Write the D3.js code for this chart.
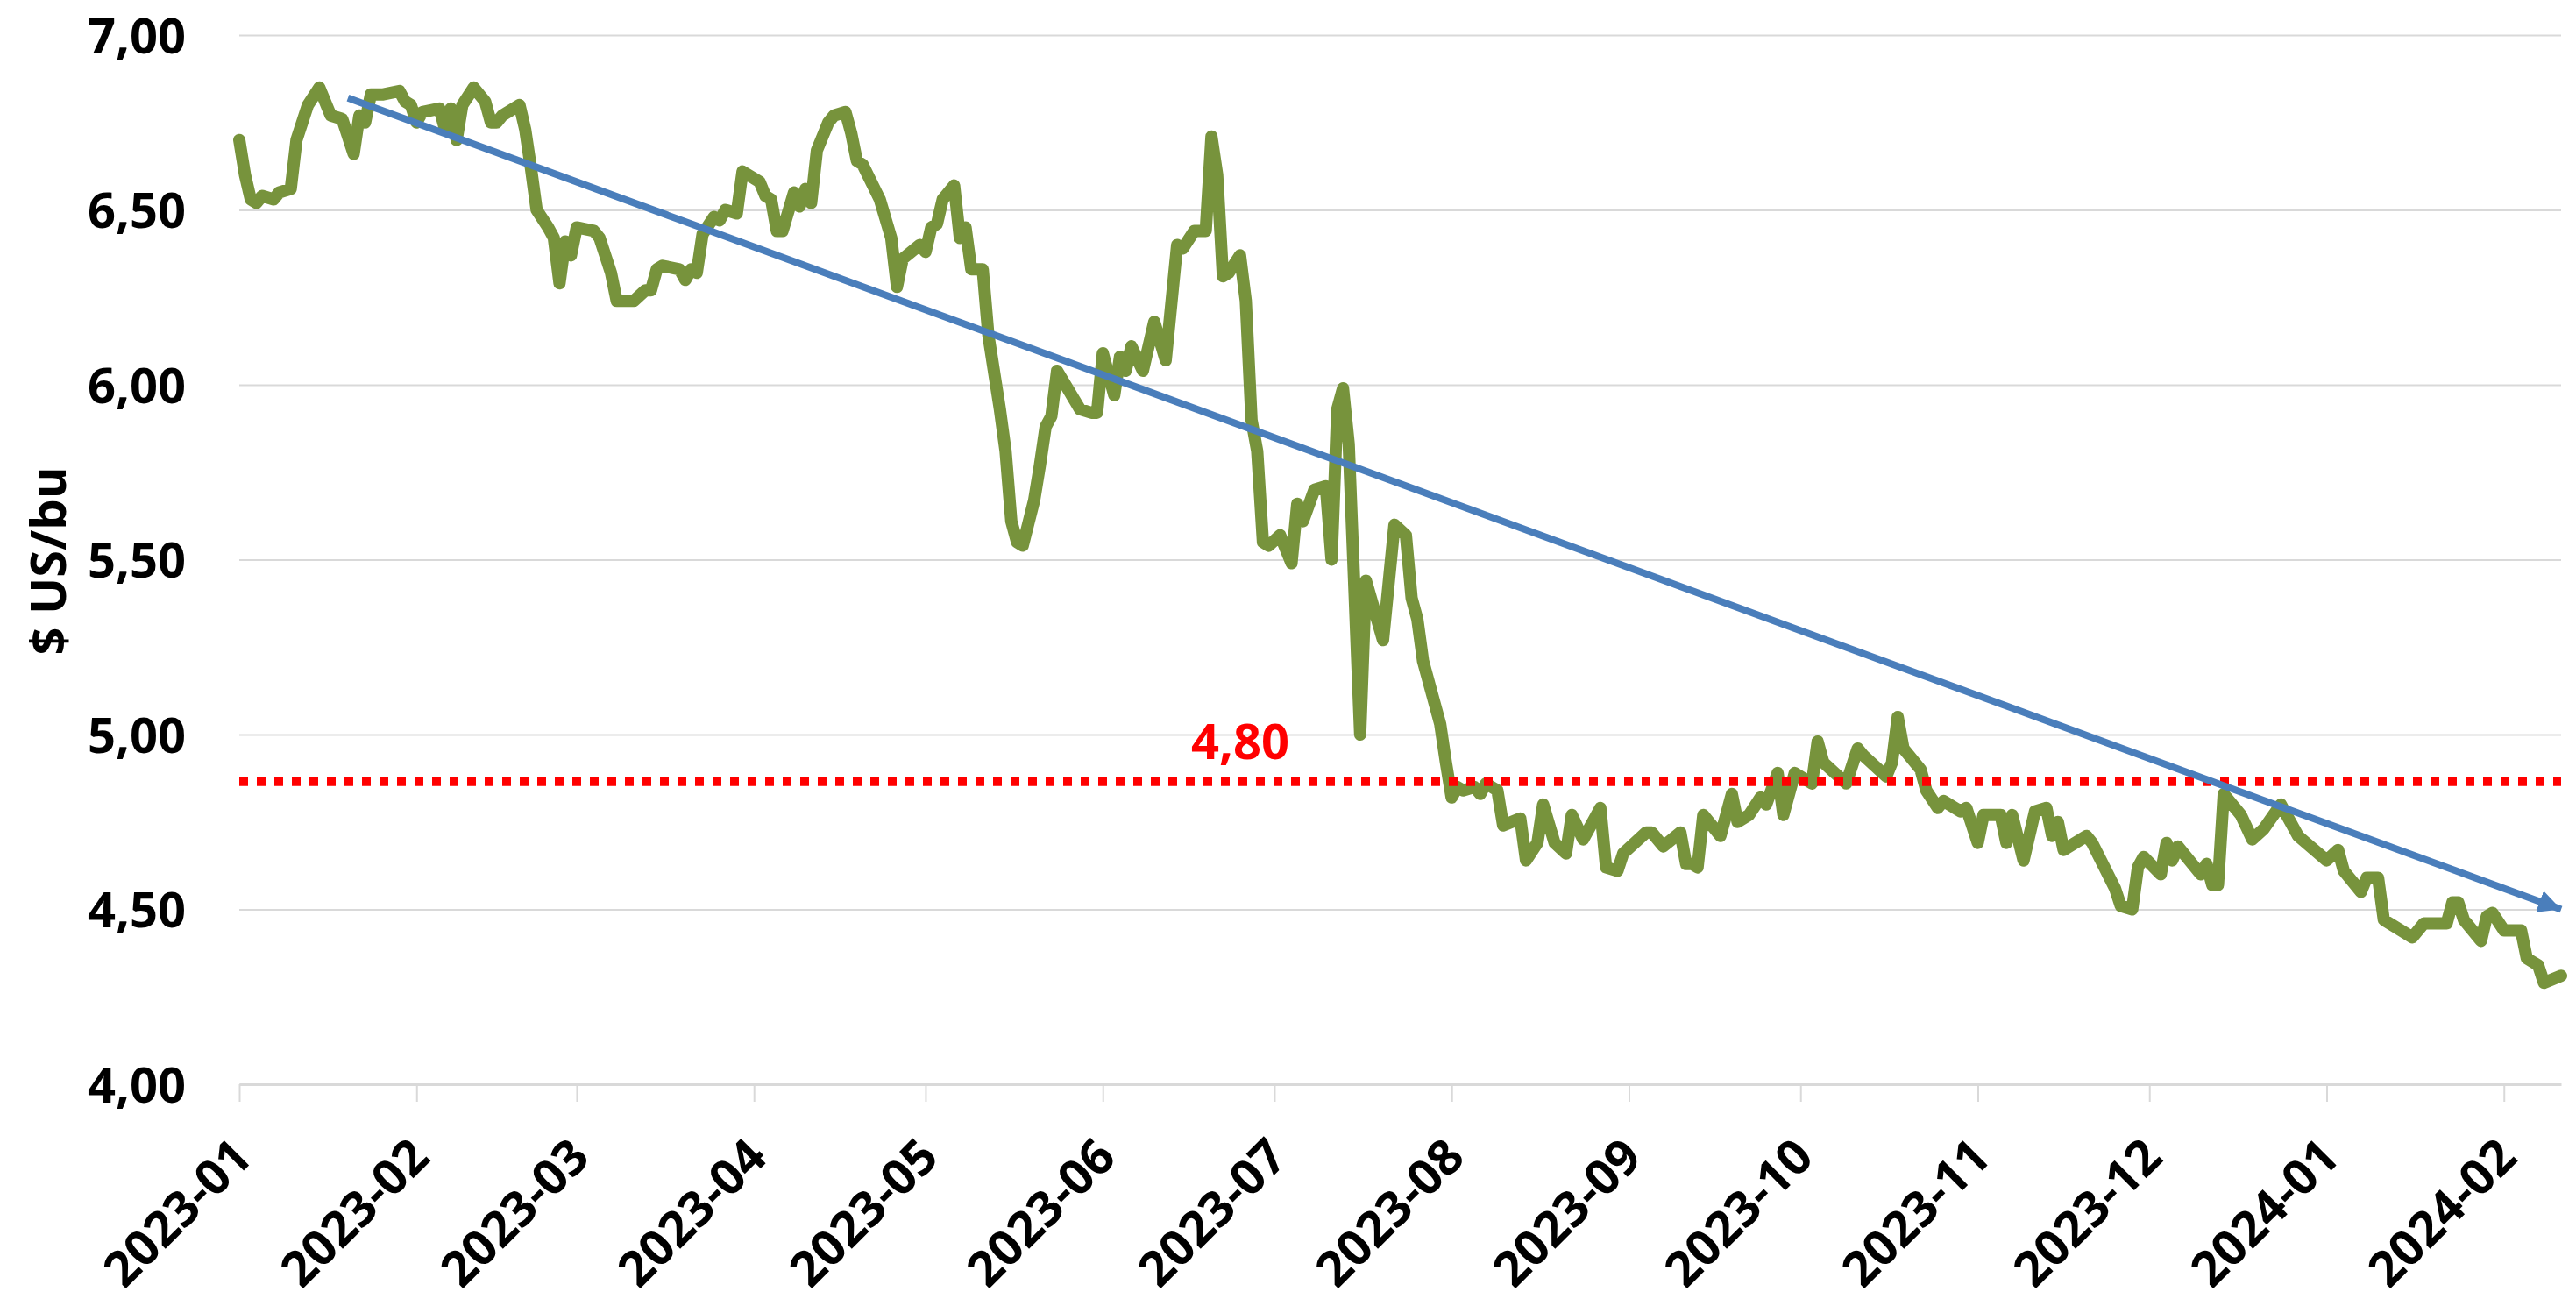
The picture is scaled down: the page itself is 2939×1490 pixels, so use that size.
<!DOCTYPE html>
<html>
<head>
<meta charset="utf-8">
<script src="https://cdn.jsdelivr.net/npm/d3@7"></script>
<style>
  html, body { margin: 0; padding: 0; background: #fff; }
  svg text { font-family: 'Open Sans', 'Noto Sans', sans-serif; font-weight: 700; }
</style>
</head>
<body>
<svg id="chart" width="2939" height="1490"></svg>
<script>
// cotizaciones (dólares por bushel)
const dates = [
  '2023-01-01','2023-01-02','2023-01-03','2023-01-04','2023-01-05','2023-01-07','2023-01-08','2023-01-10','2023-01-11','2023-01-12',
  '2023-01-13','2023-01-15','2023-01-17','2023-01-19','2023-01-21','2023-01-22','2023-01-23','2023-01-24','2023-01-26','2023-01-29',
  '2023-01-30','2023-01-31','2023-02-01','2023-02-02','2023-02-05','2023-02-06','2023-02-07','2023-02-08','2023-02-09','2023-02-11',
  '2023-02-13','2023-02-14','2023-02-15','2023-02-16','2023-02-19','2023-02-20','2023-02-21','2023-02-22','2023-02-24','2023-02-25',
  '2023-02-26','2023-02-27','2023-02-28','2023-03-01','2023-03-04','2023-03-05','2023-03-07','2023-03-08','2023-03-11','2023-03-13',
  '2023-03-14','2023-03-15','2023-03-16','2023-03-19','2023-03-20','2023-03-21','2023-03-22','2023-03-23','2023-03-25','2023-03-26',
  '2023-03-27','2023-03-29','2023-03-30','2023-04-02','2023-04-03','2023-04-04','2023-04-05','2023-04-06','2023-04-08','2023-04-09',
  '2023-04-10','2023-04-11','2023-04-12','2023-04-14','2023-04-15','2023-04-17','2023-04-18','2023-04-19','2023-04-20','2023-04-23',
  '2023-04-25','2023-04-26','2023-04-27','2023-04-30','2023-05-01','2023-05-02','2023-05-03','2023-05-04','2023-05-06','2023-05-07',
  '2023-05-08','2023-05-09','2023-05-11','2023-05-12','2023-05-14','2023-05-15','2023-05-16','2023-05-17','2023-05-18','2023-05-20',
  '2023-05-21','2023-05-22','2023-05-23','2023-05-24','2023-05-28','2023-05-30','2023-05-31','2023-06-01','2023-06-03','2023-06-04',
  '2023-06-05','2023-06-06','2023-06-08','2023-06-10','2023-06-12','2023-06-14','2023-06-15','2023-06-17','2023-06-19','2023-06-20',
  '2023-06-21','2023-06-22','2023-06-23','2023-06-25','2023-06-26','2023-06-27','2023-06-28','2023-06-29','2023-06-30','2023-07-02',
  '2023-07-04','2023-07-05','2023-07-06','2023-07-08','2023-07-10','2023-07-11','2023-07-12','2023-07-13','2023-07-14','2023-07-16',
  '2023-07-17','2023-07-20','2023-07-22','2023-07-24','2023-07-25','2023-07-26','2023-07-27','2023-07-30','2023-07-31','2023-08-01',
  '2023-08-02','2023-08-03','2023-08-05','2023-08-06','2023-08-07','2023-08-08','2023-08-09','2023-08-10','2023-08-13','2023-08-14',
  '2023-08-16','2023-08-17','2023-08-19','2023-08-21','2023-08-22','2023-08-24','2023-08-27','2023-08-28','2023-08-30','2023-08-31',
  '2023-09-04','2023-09-05','2023-09-07','2023-09-10','2023-09-11','2023-09-12','2023-09-13','2023-09-14','2023-09-17','2023-09-19',
  '2023-09-20','2023-09-22','2023-09-24','2023-09-25','2023-09-27','2023-09-28','2023-09-30','2023-10-03','2023-10-04','2023-10-05',
  '2023-10-09','2023-10-11','2023-10-12','2023-10-16','2023-10-17','2023-10-18','2023-10-19','2023-10-22','2023-10-23','2023-10-25',
  '2023-10-26','2023-10-29','2023-10-30','2023-11-01','2023-11-02','2023-11-05','2023-11-06','2023-11-07','2023-11-09','2023-11-11',
  '2023-11-13','2023-11-14','2023-11-15','2023-11-16','2023-11-20','2023-11-21','2023-11-25','2023-11-26','2023-11-28','2023-11-29',
  '2023-11-30','2023-12-03','2023-12-04','2023-12-05','2023-12-06','2023-12-10','2023-12-11','2023-12-12','2023-12-13','2023-12-14',
  '2023-12-17','2023-12-19','2023-12-21','2023-12-24','2023-12-27','2024-01-01','2024-01-03','2024-01-04','2024-01-07','2024-01-08',
  '2024-01-10','2024-01-11','2024-01-16','2024-01-18','2024-01-22','2024-01-23','2024-01-24','2024-01-25','2024-01-28','2024-01-29',
  '2024-01-30','2024-02-01','2024-02-04','2024-02-05','2024-02-07','2024-02-08','2024-02-11'
]
const prices = [
  6.70, 6.60, 6.53, 6.52, 6.54, 6.53, 6.55, 6.56, 6.70, 6.75,
  6.80, 6.85, 6.77, 6.76, 6.66, 6.77, 6.75, 6.83, 6.83, 6.84,
  6.81, 6.80, 6.75, 6.78, 6.79, 6.73, 6.79, 6.70, 6.80, 6.85,
  6.81, 6.75, 6.75, 6.77, 6.80, 6.73, 6.62, 6.50, 6.45, 6.42,
  6.29, 6.41, 6.37, 6.45, 6.44, 6.42, 6.32, 6.24, 6.24, 6.27,
  6.27, 6.33, 6.34, 6.33, 6.30, 6.33, 6.32, 6.43, 6.48, 6.47,
  6.50, 6.49, 6.61, 6.58, 6.54, 6.53, 6.44, 6.44, 6.55, 6.51,
  6.56, 6.52, 6.67, 6.75, 6.77, 6.78, 6.72, 6.64, 6.63, 6.53,
  6.42, 6.28, 6.36, 6.40, 6.38, 6.45, 6.46, 6.53, 6.57, 6.42,
  6.45, 6.33, 6.33, 6.14, 5.93, 5.81, 5.61, 5.55, 5.54, 5.67,
  5.77, 5.88, 5.91, 6.04, 5.93, 5.92, 5.92, 6.09, 5.97, 6.08,
  6.04, 6.11, 6.04, 6.18, 6.07, 6.40, 6.39, 6.44, 6.44, 6.71,
  6.60, 6.31, 6.32, 6.37, 6.24, 5.90, 5.81, 5.55, 5.54, 5.57,
  5.49, 5.66, 5.61, 5.70, 5.71, 5.50, 5.93, 5.99, 5.83, 5.00,
  5.44, 5.27, 5.60, 5.57, 5.39, 5.33, 5.21, 5.03, 4.92, 4.82,
  4.85, 4.84, 4.85, 4.83, 4.86, 4.85, 4.84, 4.74, 4.76, 4.64,
  4.69, 4.80, 4.69, 4.66, 4.77, 4.70, 4.79, 4.62, 4.61, 4.66,
  4.72, 4.72, 4.68, 4.72, 4.63, 4.63, 4.62, 4.77, 4.71, 4.83,
  4.75, 4.77, 4.82, 4.80, 4.89, 4.77, 4.89, 4.86, 4.98, 4.92,
  4.86, 4.96, 4.94, 4.88, 4.92, 5.05, 4.96, 4.90, 4.84, 4.79,
  4.81, 4.78, 4.79, 4.69, 4.77, 4.77, 4.69, 4.77, 4.64, 4.78,
  4.79, 4.71, 4.75, 4.67, 4.71, 4.69, 4.56, 4.51, 4.50, 4.62,
  4.65, 4.60, 4.69, 4.64, 4.68, 4.60, 4.63, 4.57, 4.57, 4.83,
  4.77, 4.70, 4.73, 4.80, 4.71, 4.64, 4.67, 4.61, 4.55, 4.59,
  4.59, 4.47, 4.42, 4.46, 4.46, 4.52, 4.52, 4.47, 4.41, 4.48,
  4.49, 4.44, 4.44, 4.36, 4.34, 4.29, 4.31
]
const xDomain = ['2023-01-01', '2024-02-11']
const yTicks = [4, 4.5, 5, 5.5, 6, 6.5, 7]
// flecha de tendencia
const trendStart = ['2023-01-20', 6.82]
const trendEnd = ['2024-02-11', 4.50]
// nivel de referencia (línea roja punteada)
const refLevel = 4.865
const refLabel = '4,80'
const yTitle = '$ US/bu'

const parse = d3.timeParse('%Y-%m-%d')
const series = dates.map((d, i) => ({ date: parse(d), value: prices[i] }))

// marco del área de trazado
const plot = { left: 273, right: 2922, top: 40, bottom: 1237 }
const fontSize = 56

const svg = d3.select('#chart')

const x = d3.scaleTime().domain(xDomain.map(parse)).range([plot.left, plot.right])
const y = d3.scaleLinear().domain([4, 7]).range([plot.bottom, plot.top])

const es = d3.formatLocale({ decimal: ',', thousands: '.', grouping: [3], currency: ['', ''] })

// eje Y con líneas de cuadrícula
const yAxis = svg.append('g')
  .attr('transform', `translate(${plot.left},0)`)
  .call(d3.axisLeft(y).tickValues(yTicks).tickFormat(es.format('.2f'))
    .tickSizeInner(-(plot.right - plot.left)).tickSizeOuter(0).tickPadding(61))
yAxis.select('.domain').remove()
yAxis.selectAll('.tick line').attr('stroke', '#D9D9D9').attr('stroke-width', 2)
yAxis.selectAll('.tick text')
  .attr('fill', '#000').attr('font-size', fontSize).attr('dy', '0.36em')

// eje X (meses)
const xAxis = svg.append('g')
  .attr('transform', `translate(0,${plot.bottom})`)
  .call(d3.axisBottom(x).ticks(d3.timeMonth.every(1)).tickFormat(d3.timeFormat('%Y-%m'))
    .tickSizeInner(20).tickSizeOuter(0))
xAxis.select('.domain').attr('stroke', '#D9D9D9').attr('stroke-width', 3)
xAxis.selectAll('.tick line').attr('stroke', '#D9D9D9').attr('stroke-width', 2)
xAxis.selectAll('.tick text')
  .attr('fill', '#000').attr('font-size', fontSize)
  .attr('text-anchor', 'end')
  .attr('x', 0).attr('y', 0).attr('dy', 0)
  .attr('transform', 'translate(17,86) rotate(-45)')

// título del eje Y
svg.append('text')
  .attr('transform', 'translate(75,640) rotate(-90)')
  .attr('text-anchor', 'middle')
  .attr('font-size', fontSize)
  .attr('fill', '#000')
  .text(yTitle)

// serie de precios
const line = d3.line().x((d) => x(d.date)).y((d) => y(d.value))
svg.append('path')
  .datum(series)
  .attr('d', line)
  .attr('fill', 'none')
  .attr('stroke', '#77933C')
  .attr('stroke-width', 14)
  .attr('stroke-linejoin', 'round')
  .attr('stroke-linecap', 'round')

// línea de referencia
svg.append('line')
  .attr('x1', plot.left).attr('x2', plot.right)
  .attr('y1', y(refLevel)).attr('y2', y(refLevel))
  .attr('stroke', '#FF0000')
  .attr('stroke-width', 10)
  .attr('stroke-dasharray', '10,10')

svg.append('text')
  .attr('x', 1415)
  .attr('y', y(refLevel) - 26)
  .attr('text-anchor', 'middle')
  .attr('font-size', fontSize)
  .attr('fill', '#FF0000')
  .text(refLabel)

// flecha de tendencia
svg.append('defs').append('marker')
  .attr('id', 'arrow')
  .attr('markerUnits', 'userSpaceOnUse')
  .attr('markerWidth', 28).attr('markerHeight', 28)
  .attr('refX', 26).attr('refY', 13)
  .attr('orient', 'auto')
  .append('path')
  .attr('d', 'M0,0 L26,13 L0,26 Z')
  .attr('fill', '#4A7EBB')

const trend = [trendStart, trendEnd].map((d) => ({ date: parse(d[0]), value: d[1] }))
svg.append('path')
  .datum(trend)
  .attr('d', line)
  .attr('fill', 'none')
  .attr('stroke', '#4A7EBB')
  .attr('stroke-width', 8)
  .attr('marker-end', 'url(#arrow)')
</script>
</body>
</html>
